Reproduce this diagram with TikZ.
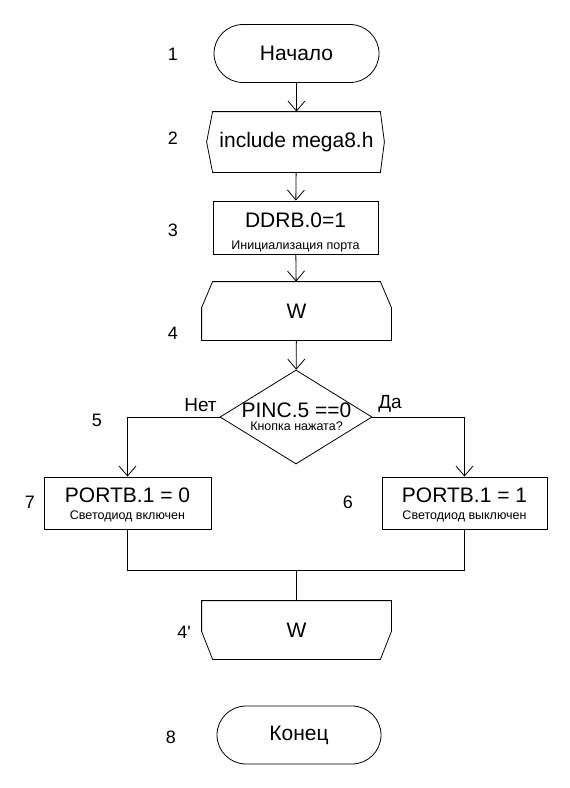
\documentclass[tikz,border=0pt]{standalone}
\usepackage{fontspec}
\setmainfont{Liberation Sans}
\usetikzlibrary{arrows.meta,shapes.geometric}

\tikzset{
  chart/.style={
    line width=0.8pt,
    every node/.style={inner sep=0pt,font=\fontsize{21}{23}\selectfont},
    >={Straight Barb[length=10pt,width=17pt]}
  }
}
\newcommand{\smalltext}[1]{{\fontsize{12.5}{14}\selectfont #1}}

\begin{document}
\begin{tikzpicture}[x=1pt, y=-1pt, chart]
            \tikzstyle{terminal}=[draw,rectangle,rounded corners=29pt,minimum width=165pt,minimum height=58pt]
            \tikzstyle{block}=[draw,rectangle,minimum width=166pt,minimum height=53pt]
            \tikzstyle{shell}=[rectangle,minimum width=189pt,minimum height=58pt]
            \tikzstyle{caption}=[align=center]
            \tikzstyle{number}=[font=\fontsize{18}{20}\selectfont]
            \useasboundingbox (0,0) rectangle (570,788);

            \node[terminal] (B_1) at (296.5,53.5) {Начало};
            \node[shell, minimum width=167pt, minimum height=60pt] (B_2) at (296.5,142) {include mega8.h};
            \node[block, minimum width=165pt] (B_3) at (295.5,227.5) {};
            \node[caption] (B_3t) at (295.5,232.5) {DDRB.0=1\\[-1pt]\smalltext{Инициализация порта}};
            \node[shell] (B_4) at (296.5,311) {W};
            \node[diamond,draw,minimum width=152pt,minimum height=94pt,aspect=1.6] (B_5) at (296,417) {};
            \node[caption] (B_5t) at (296.5,417) {PINC.5 ==0\\[-10pt]\smalltext{Кнопка нажата?}};
            \node[block, minimum width=165pt, minimum height=52pt] (B_6) at (464.5,503) {};
            \node[caption] (B_6t) at (464.5,505) {PORTB.1 = 1\\[-6pt]\smalltext{Светодиод выключен}};
            \node[block, minimum width=167pt, minimum height=52pt] (B_7) at (127.5,503) {};
            \node[caption] (B_7t) at (127.5,505) {PORTB.1 = 0\\[-6pt]\smalltext{Светодиод включен}};
            \node[shell] (B_44) at (296.5,630) {W};
            \node[terminal, minimum width=164pt] (B_8) at (299,735) {Конец};

            % outlines of the odd blocks
            \draw (B_2.north west) -- (B_2.north east) -- ([xshift=4pt]B_2.east) -- (B_2.south east)
                  -- (B_2.south west) -- ([xshift=-6pt]B_2.west) -- cycle;
            \draw ([xshift=11pt]B_4.north west) -- ([xshift=-11pt]B_4.north east) -- ([yshift=-26pt]B_4.north east)
                  -- (B_4.south east) -- (B_4.south west) -- ([yshift=-26pt]B_4.north west) -- cycle;
            \draw (B_44.north west) -- (B_44.north east) -- ([yshift=28pt]B_44.south east)
                  -- ([xshift=-11pt]B_44.south east) -- ([xshift=11pt]B_44.south west) -- ([yshift=28pt]B_44.south west) -- cycle;

            \coordinate (J_7) at (B_7.north |- B_5.west);
            \coordinate (J_6) at (B_6.north |- B_5.east);
            \coordinate (M_7) at ([yshift=-41pt]B_7.south);
            \coordinate (M_6) at (B_6.south |- M_7);
            \coordinate (M_0) at (B_44.north |- M_7);

            \draw[->] (B_1) -- (B_2);
            \draw[->] (B_2) -- (B_3);
            \draw[->] (B_3) -- (B_4);
            \draw[->] (B_4) -- (B_5);
            \draw[->] (B_5.west) -- (J_7) -- (B_7.north);
            \draw[->] (B_5.east) -- (J_6) -- (B_6.north);
            \draw (B_7.south) -- (M_7) -- (M_6) -- (B_6.south);
            \draw (M_0) -- (B_44.north);

            % numbers and answers
            \node[number] (N_1) at (173,54) {1};
            \node[number] (N_2) at (173,138) {2};
            \node[number] (N_3) at (173,230) {3};
            \node[number] (N_4) at (173,333) {4};
            \node[number] (N_5) at (97,420) {5};
            \node[number] (N_6) at (348,502) {6};
            \node[number] (N_7) at (30,502) {7};
            \node[number] (N_44) at (184,632) {4\textquotesingle};
            \node[number] (N_8) at (171,737) {8};
            \node[number, font=\fontsize{19}{21}\selectfont] (A_no) at (200.5,405) {Нет};
            \node[number, font=\fontsize{19}{21}\selectfont] (A_yes) at (390,404) {Да};
\end{tikzpicture}
\end{document}
